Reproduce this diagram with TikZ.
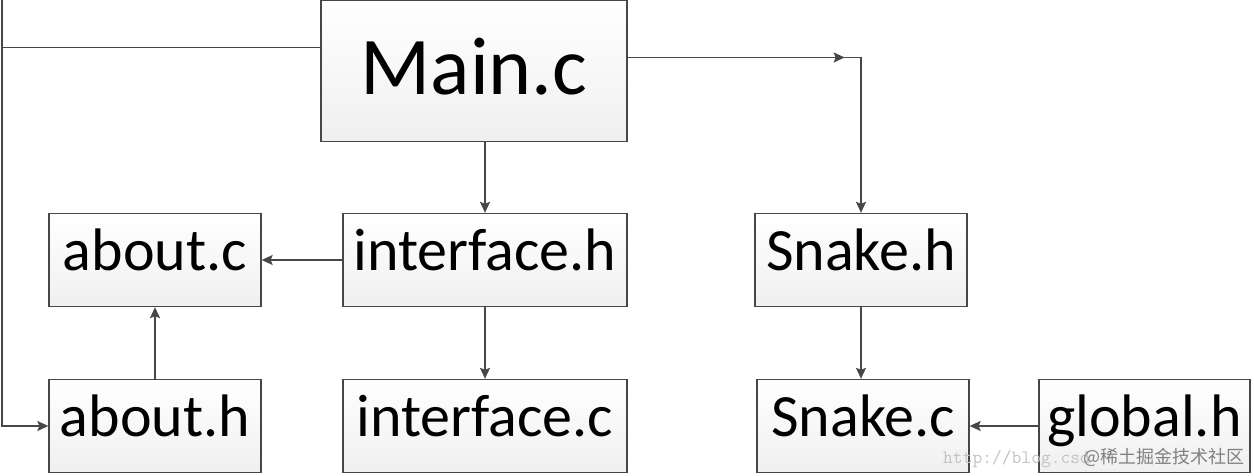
\documentclass[tikz,border=0pt]{standalone}
\usepackage{fontspec}
\setmainfont{Carlito}
\newfontfamily\cjk{Noto Sans CJK SC}
\usetikzlibrary{arrows.meta,calc,decorations.markings}
\definecolor{linec}{HTML}{474747}
\begin{document}
\begin{tikzpicture}[x=1pt,y=-1pt,
  filebox/.style={draw=linec,line width=1.3pt,shading=axis,top color=white,bottom color=black!6,
    inner sep=0pt,minimum width=212pt,minimum height=93pt,
    font=\fontsize{60}{60}\selectfont,text height=43pt,text depth=22pt},
  mainbox/.style={filebox,minimum width=306pt,minimum height=141pt,
    font=\fontsize{82}{82}\selectfont,text height=62pt,text depth=15pt},
  conn/.style={draw=linec,line width=1.5pt,-{Stealth[length=11pt,width=10pt,inset=2pt]}},
  midarrow/.style={postaction={decorate},decoration={markings,
    mark=at position #1 with {\arrow{Stealth[length=11pt,width=10pt,inset=2pt]}}}}
]
\useasboundingbox (0,0) rectangle (1254,476);
\node[mainbox] (main) at (474,71) {Main.c};
\node[filebox] (aboutc) at (155,260) {about.c};
\node[filebox,minimum width=284pt] (ifh) at (485,260) {interface.h};
\node[filebox] (snh) at (861,260) {Snake.h};
\node[filebox] (abouth) at (155,426) {about.h};
\node[filebox,minimum width=284pt] (ifc) at (485,426) {interface.c};
\node[filebox] (snc) at (863,426) {Snake.c};
\node[filebox,minimum width=211pt] (glh) at (1144.5,426) {global.h};
\coordinate (ml) at ($(main.north west)!0.335!(main.south west)$);
\coordinate (mr) at ($(main.north east)!0.405!(main.south east)$);
\coordinate (lc) at (2,0);
\draw[conn] (ml) -| (lc) |- (abouth.west);
\draw[conn,midarrow=217pt] (mr) -| (snh.north);
\draw[conn] (main.south -| ifh.north) -- (ifh.north);
\draw[conn] (ifh.west) -- (aboutc.east);
\draw[conn] (abouth.north) -- (aboutc.south);
\draw[conn] (ifh.south) -- (ifc.north);
\draw[conn] (snh.south) -- (snc.north -| snh.south);
\draw[conn] (glh.west) -- (snc.east);
\node[anchor=base west,inner sep=0pt,text=black!24,font=\ttfamily\fontsize{19}{19}\selectfont] (wm1) at (943,463) {http://blog.csd};
\node[anchor=base east,inner sep=0pt,text=black!50,font=\cjk\fontsize{18}{18}\selectfont] (wm2) at (1245,463) {@稀土掘金技术社区};
\end{tikzpicture}
\end{document}
